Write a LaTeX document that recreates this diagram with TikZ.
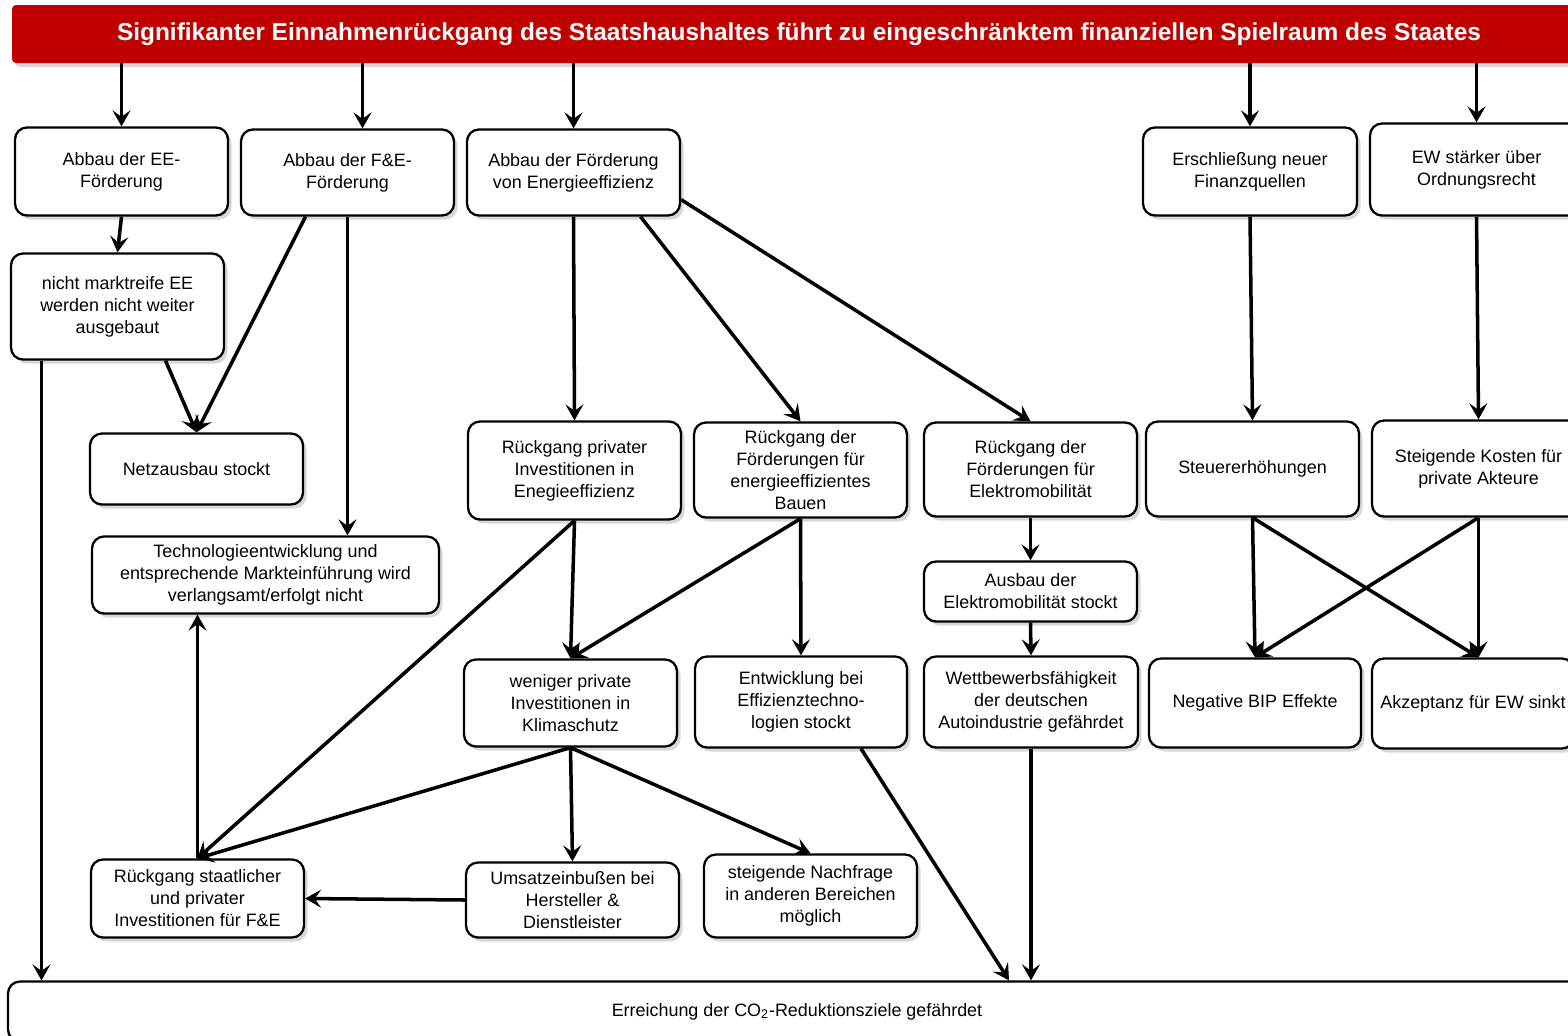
\documentclass[tikz,border=0pt]{standalone}
\usepackage{fontspec}
\setmainfont{Liberation Sans}
\usetikzlibrary{arrows.meta,calc,shadows}
\definecolor{banred}{HTML}{C00000}
\tikzset{
 box/.style={draw=black, line width=1.3pt, rounded corners=0.24cm, fill=white, align=center, inner sep=0pt,
   font=\fontsize{10.2}{12.5}\selectfont,
   drop shadow={shadow xshift=0.07cm, shadow yshift=-0.08cm, opacity=0.3}},
 arr/.style={line width=2pt, -{Stealth[length=0.32cm, width=0.36cm, inset=0.13cm]}},
}
\newcommand\bx[6]{\node[box, minimum width={(#4-#2)*0.02cm}, minimum height={(#5-#3)*0.02cm}] (#1) at ({(#2+#4)/2},{(#3+#5)/2+1.5}) {#6};}
\begin{document}
\begin{tikzpicture}[x=0.02cm,y=-0.02cm]
\useasboundingbox (0,0) rectangle (1568,1035);
\fill[white] (0,0) rectangle (1568,1035);
\clip (0,0) rectangle (1568,1035);
\node[fill=banred, rounded corners=0.08cm, minimum width={1574*0.02cm}, minimum height={58*0.02cm}, inner sep=0pt,
  text=white, font=\bfseries\fontsize{13.9}{16}\selectfont,
  drop shadow={shadow xshift=0.06cm, shadow yshift=-0.08cm, opacity=0.3}] (top) at (799,34)
  {Signifikanter Einnahmenrückgang des Staatshaushaltes führt zu eingeschränktem finanziellen Spielraum des Staates};

\bx{EE}{15}{126}{228}{214}{Abbau der EE-\\Förderung}
\bx{FE}{241}{128}{454}{214}{Abbau der F\&E-\\Förderung}
\bx{EF}{467}{128}{680}{214}{Abbau der Förderung\\von Energieeffizienz}
\bx{FQ}{1143}{126}{1357}{214}{Erschließung neuer\\Finanzquellen}
\bx{OR}{1370}{122}{1583}{214}{EW stärker über\\Ordnungsrecht}
\bx{nmEE}{11}{252}{224}{358}{nicht marktreife EE\\werden nicht weiter\\ausgebaut}
\bx{Netz}{90}{432}{303}{503}{Netzausbau stockt}
\bx{Tech}{92}{535}{439}{612}{Technologieentwicklung und\\entsprechende Markteinführung wird\\verlangsamt/erfolgt nicht}
\bx{RPI}{468}{420}{681}{518}{Rückgang privater\\Investitionen in\\Enegieeffizienz}
\bx{RFB}{694}{421}{907}{516}{Rückgang der\\Förderungen für\\energieeffizientes\\Bauen}
\bx{RFE}{924}{421}{1137}{515}{Rückgang der\\Förderungen für\\Elektromobilität}
\bx{ST}{1146}{420}{1359}{515}{Steuererhöhungen}
\bx{SK}{1372}{419}{1585}{515}{Steigende Kosten für\\private Akteure}
\bx{AEs}{924}{560}{1137}{620}{Ausbau der\\Elektromobilität stockt}
\bx{WPI}{464}{658}{677}{745}{weniger private\\Investitionen in\\Klimaschutz}
\bx{EET}{695}{655}{907}{746}{Entwicklung bei\\Effizienztechno-\\logien stockt}
\bx{WAI}{924}{655}{1138}{746}{Wettbewerbsfähigkeit\\der deutschen\\Autoindustrie gefährdet}
\bx{BIP}{1149}{657}{1361}{746}{Negative BIP Effekte}
\bx{AK}{1372}{657}{1574}{747}{Akzeptanz für EW sinkt}
\bx{RSP}{91}{858}{304}{936}{Rückgang staatlicher\\und privater\\Investitionen für F\&E}
\bx{UE}{466}{861}{679}{936}{Umsatzeinbußen bei\\Hersteller \&\\Dienstleister}
\bx{SN}{704}{853}{917}{936}{steigende Nachfrage\\in anderen Bereichen\\möglich}
\bx{CO2}{8}{980}{1586}{1040}{Erreichung der CO\textsubscript{2}-Reduktionsziele gefährdet}

\draw[arr] (top.south -| EE.north) -- (EE.north);
\coordinate (fa) at ($(FE.north)+(15,0)$);
\draw[arr] (top.south -| fa) -- (fa);
\draw[arr] (top.south -| EF.north) -- (EF.north);
\draw[arr] (top.south -| FQ.north) -- (FQ.north);
\draw[arr] (top.south -| OR.north) -- (OR.north);
\draw[arr] (EE.south) -- (nmEE.north);
\draw[arr] ($(FE.south)+(-42,0)$) -- (Netz.north);
\draw[arr] ($(nmEE.south)+(48,0)$) -- (Netz.north);
\draw[arr] (FE.south) -- (FE.south |- Tech.north);
\coordinate (nl) at ($(nmEE.south)+(-76,0)$);
\draw[arr] (nl) -- (nl |- CO2.north);
\draw[arr] (EF.south) -- (RPI.north);
\draw[arr] ($(EF.south)+(67,0)$) -- (RFB.north);
\draw[arr] ($(EF.south east)+(0,-17)$) -- (RFE.north);
\draw[arr] (RPI.south) -- (WPI.north);
\draw[arr] (RPI.south) -- (RSP.north);
\draw[arr] (RFB.south) -- (WPI.north);
\draw[arr] (RFB.south) -- (EET.north);
\draw[arr] (RFE.south) -- (AEs.north);
\draw[arr] (AEs.south) -- (WAI.north);
\draw[arr] (FQ.south) -- (ST.north);
\draw[arr] (OR.south) -- (SK.north);
\draw[arr] (ST.south) -- (BIP.north);
\draw[arr] (ST.south) -- (AK.north -| SK.south);
\draw[arr] (SK.south) -- (BIP.north);
\draw[arr] (SK.south) -- (AK.north -| SK.south);
\draw[arr] (WPI.south) -- (RSP.north);
\draw[arr] (WPI.south) -- (UE.north);
\draw[arr] (WPI.south) -- (SN.north);
\draw[arr] (RSP.north) -- (RSP.north |- Tech.south);
\draw[arr] (UE.west) -- (RSP.east);
\coordinate (ce) at ($(CO2.north -| WAI.south)+(-22,0)$);
\draw[arr] ($(EET.south)+(60,0)$) -- (ce);
\draw[arr] (WAI.south) -- (WAI.south |- CO2.north);
\end{tikzpicture}
\end{document}
